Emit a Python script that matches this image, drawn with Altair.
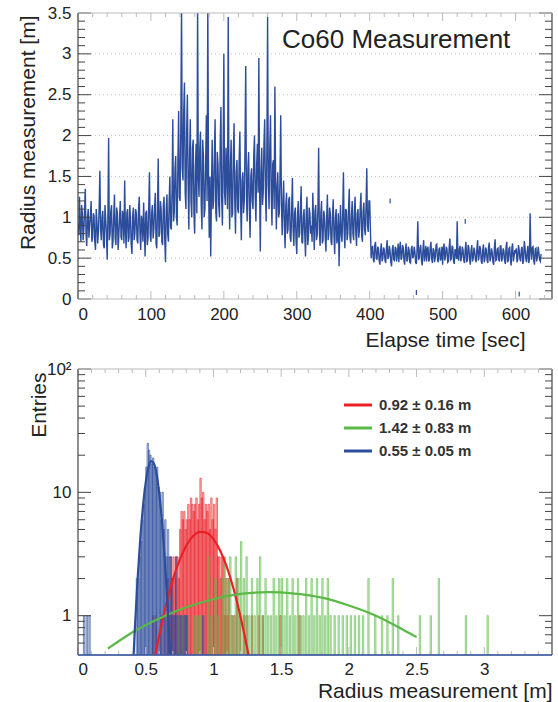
import altair as alt
import pandas as pd

FONT = "Liberation Sans"
BLUE = "#2c4c9c"
RED = "#ea2027"
GREEN = "#5ab946"
TXT = "#222222"
AXC = "#444444"
AXL = "#bbbbbb"

# ---------------- top panel data: radius vs elapse time (1 s samples) ----------------
RADIUS = [
    0.92, 0.78, 1.25, 0.88, 0.70, 1.15, 1.05, 0.72, 0.85, 1.08, 1.35, 0.80, 0.65, 0.98, 1.10, 0.75, 0.90, 1.02, 1.20, 0.70,
    0.75, 1.05, 1.02, 0.70, 0.60, 1.10, 0.95, 0.68, 0.82, 1.12, 1.57, 0.85, 0.72, 1.00, 1.08, 0.66, 0.62, 1.15, 0.98, 0.80,
    0.48, 1.00, 1.97, 0.72, 0.80, 1.08, 1.15, 0.62, 0.70, 1.02, 1.28, 0.74, 0.66, 1.12, 1.05, 0.60, 0.78, 1.00, 1.20, 0.76,
    0.72, 1.08, 1.02, 0.68, 1.45, 0.85, 0.62, 1.05, 1.10, 0.70, 0.75, 1.15, 0.98, 0.66, 0.55, 1.02, 1.12, 0.72, 0.80, 1.10,
    1.05, 0.72, 0.68, 1.10, 1.25, 0.80, 0.60, 1.02, 0.95, 0.70, 1.18, 0.85, 0.52, 1.05, 1.08, 0.66, 0.74, 1.12, 1.55, 0.78,
    0.70, 1.05, 1.15, 0.74, 0.85, 1.12, 1.30, 0.68, 0.62, 1.08, 1.72, 0.76, 0.80, 1.20, 1.10, 0.70, 0.66, 1.15, 1.25, 0.72,
    0.45, 1.10, 1.28, 0.80, 0.70, 1.20, 1.50, 0.88, 0.85, 1.35, 2.20, 0.95, 1.05, 1.60, 1.75, 1.00, 0.90, 1.70, 2.30, 1.25,
    1.20, 2.10, 3.60, 1.60, 1.45, 2.30, 2.65, 1.30, 1.10, 2.05, 2.50, 1.40, 0.85, 1.75, 2.20, 1.20, 1.00, 1.85, 1.95, 1.05,
    0.80, 1.60, 1.90, 1.05, 3.60, 1.50, 1.25, 1.85, 2.05, 1.15, 0.85, 1.95, 1.75, 1.00, 1.10, 1.65, 2.25, 1.20, 3.60, 1.45,
    0.75, 1.50, 0.52, 1.30, 1.95, 1.10, 1.20, 1.75, 2.20, 1.05, 0.95, 1.80, 1.65, 1.15, 1.00, 1.90, 2.35, 1.25, 0.90, 1.70,
    3.00, 1.30, 1.15, 1.85, 1.55, 1.10, 3.45, 1.40, 0.85, 1.65, 1.95, 1.00, 1.05, 1.75, 2.15, 1.20, 0.80, 1.55, 1.70, 1.10,
    1.05, 1.70, 2.05, 1.15, 0.72, 1.45, 1.55, 1.05, 1.20, 1.85, 2.85, 1.25, 0.95, 1.60, 1.80, 1.10, 0.75, 1.50, 1.60, 1.20,
    1.10, 1.75, 2.00, 1.25, 0.95, 1.65, 1.90, 1.30, 2.95, 1.40, 0.58, 1.55, 1.85, 1.15, 1.30, 1.90, 2.20, 1.35, 0.95, 1.80,
    3.45, 1.40, 1.10, 1.85, 2.25, 1.30, 0.90, 1.65, 1.70, 1.10, 2.60, 1.45, 0.85, 1.35, 1.55, 1.00, 1.05, 1.50, 2.25, 1.15,
    0.78, 1.20, 1.45, 0.90, 0.62, 1.15, 1.30, 0.80, 0.85, 1.22, 1.25, 0.75, 0.70, 1.10, 1.48, 0.85, 0.65, 1.05, 1.12, 0.72,
    0.55, 1.02, 1.20, 0.75, 0.80, 1.10, 1.38, 0.70, 0.68, 1.00, 1.10, 0.78, 0.52, 1.05, 1.25, 0.66, 0.75, 1.12, 1.05, 0.80,
    0.90, 0.70, 1.30, 0.95, 0.60, 1.08, 1.15, 0.72, 0.78, 1.10, 1.85, 0.82, 0.65, 1.05, 1.20, 0.68, 0.72, 1.08, 1.02, 0.76,
    0.58, 1.00, 1.28, 0.72, 0.80, 1.12, 1.05, 0.70, 0.66, 1.02, 1.22, 0.78, 0.55, 1.00, 1.10, 0.68, 0.75, 1.05, 0.40, 0.85,
    1.15, 0.78, 0.70, 1.05, 1.55, 0.82, 0.62, 1.10, 1.08, 0.72, 0.80, 1.12, 1.35, 0.75, 0.68, 1.02, 1.20, 0.80, 0.72, 1.08,
    1.25, 0.80, 0.65, 1.05, 1.10, 0.75, 0.85, 1.12, 1.30, 0.78, 0.70, 1.08, 1.18, 0.85, 0.78, 1.15, 1.60, 0.90, 0.82, 1.20,
    1.20, 0.85, 0.50, 0.62, 0.65, 0.48, 0.45, 0.66, 0.70, 0.50, 0.48, 0.64, 0.62, 0.47, 0.42, 0.60, 0.68, 0.46, 0.50, 0.63,
    0.60, 0.47, 0.44, 0.63, 0.72, 0.49, 0.52, 0.65, 0.58, 0.45, 0.40, 0.61, 0.66, 0.48, 0.47, 0.64, 0.62, 0.46, 0.55, 0.68,
    0.45, 0.62, 0.70, 0.48, 0.50, 0.66, 0.63, 0.47, 0.42, 0.60, 0.68, 0.46, 0.48, 0.64, 0.60, 0.45, 0.44, 0.61, 0.65, 0.50,
    0.52, 0.64, 0.58, 0.45, 0.43, 0.62, 0.95, 0.48, 0.50, 0.63, 0.66, 0.47, 0.41, 0.60, 0.72, 0.46, 0.55, 0.65, 0.46, 0.61,
    0.64, 0.46, 0.48, 0.63, 0.70, 0.49, 0.44, 0.62, 0.60, 0.45, 0.52, 0.66, 0.67, 0.48, 0.45, 0.61, 0.62, 0.47, 0.50, 0.64,
    0.42, 0.62, 0.68, 0.47, 0.53, 0.64, 0.61, 0.45, 0.46, 0.63, 0.74, 0.48, 0.49, 0.65, 0.63, 0.46, 0.43, 0.61, 0.58, 0.49,
    0.95, 0.50, 0.47, 0.62, 0.65, 0.46, 0.51, 0.64, 0.60, 0.47, 0.44, 0.61, 0.70, 0.45, 0.48, 0.66, 0.63, 0.48, 0.42, 0.60,
    0.66, 0.46, 0.50, 0.63, 0.58, 0.48, 0.45, 0.62, 0.72, 0.47, 0.52, 0.65, 0.61, 0.46, 0.43, 0.60, 0.67, 0.45, 0.49, 0.63,
    0.60, 0.47, 0.44, 0.64, 0.69, 0.46, 0.51, 0.62, 0.57, 0.45, 0.42, 0.63, 0.73, 0.47, 0.48, 0.61, 0.62, 0.48, 0.46, 0.65,
    0.65, 0.46, 0.50, 0.62, 0.59, 0.47, 0.43, 0.64, 0.70, 0.45, 0.47, 0.62, 0.63, 0.48, 0.41, 0.63, 0.68, 0.46, 0.52, 0.60,
    0.56, 0.62, 0.45, 0.48, 0.66, 0.60, 0.49, 0.46, 0.61, 0.64, 0.43, 0.47, 0.71, 0.63, 0.50, 0.45, 0.58, 0.65, 0.44, 0.48,
    1.05, 0.60, 0.48, 0.63, 0.64, 0.47, 0.42, 0.61, 0.62, 0.46, 0.51, 0.64, 0.57, 0.48, 0.46, 0.55,
]
TIME = list(range(len(RADIUS)))

OUT_T = [428, 464, 531, 605]
OUT_R = [1.20, 0.08, 0.95, 0.06]

TOP_TITLE = "Co60 Measurement"

# ---------------- bottom panel data: histograms (bin width 0.01 m) ----------------
RED_X = [0.55, 0.57, 0.61, 0.64, 0.66, 0.67, 0.68, 0.69, 0.70, 0.71, 0.72, 0.73, 0.74,
         0.75, 0.76, 0.77, 0.78, 0.79, 0.80, 0.81, 0.82, 0.83, 0.84, 0.85, 0.86, 0.87,
         0.88, 0.89, 0.90, 0.91, 0.92, 0.93, 0.94, 0.95, 0.96, 0.97, 0.98, 0.99, 1.00,
         1.01, 1.02, 1.03, 1.04, 1.05, 1.06, 1.07, 1.08, 1.09, 1.10, 1.11, 1.13, 1.15,
         1.17, 1.19, 1.22, 1.24, 1.28, 1.33, 1.36, 1.49, 1.63]
RED_N = [1, 1, 1, 1, 2, 1, 3, 2, 3, 2, 3, 3, 2,
         5, 7, 6, 7, 5, 6, 8, 6, 9, 8, 7, 8, 9,
         6, 8, 13, 9, 10, 6, 8, 7, 8, 5, 9, 6, 8,
         5, 9, 3, 3, 2, 3, 3, 1, 2, 1, 2, 1, 1,
         2, 1, 1, 1, 1, 1, 1, 1, 1]

GREEN_X = [0.74, 0.77, 0.80, 0.86, 0.88, 0.90, 0.96, 0.98, 1.01, 1.03, 1.06, 1.08, 1.10,
           1.12, 1.14, 1.16, 1.18, 1.20, 1.22, 1.24, 1.26, 1.28, 1.30, 1.32, 1.34, 1.36,
           1.38, 1.40, 1.42, 1.44, 1.46, 1.48, 1.50, 1.52, 1.54, 1.56, 1.58, 1.60, 1.62,
           1.64, 1.66, 1.68, 1.70, 1.72, 1.74, 1.76, 1.78, 1.80, 1.82, 1.84, 1.86, 1.89,
           1.92, 1.95, 1.98, 2.01, 2.04, 2.07, 2.10, 2.14, 2.19, 2.24, 2.28, 2.32, 2.36,
           2.52, 2.60, 2.66, 2.86, 3.02]
GREEN_N = [1, 1, 1, 1, 1, 1, 3, 1, 2, 1, 2, 3, 2,
           3, 1, 3, 2, 4, 2, 3, 1, 2, 1, 2, 3, 1,
           2, 1, 1, 2, 1, 2, 2, 1, 2, 1, 2, 1, 2,
           1, 1, 2, 1, 2, 1, 2, 1, 2, 1, 2, 1, 1,
           1, 1, 1, 1, 1, 1, 1, 2, 1, 1, 1, 2, 1,
           1, 1, 2, 1, 1]

BLUE_X = [0.04, 0.06, 0.08, 0.43, 0.44, 0.45, 0.46, 0.47, 0.48, 0.49, 0.50, 0.51, 0.52,
          0.53, 0.54, 0.55, 0.56, 0.57, 0.58, 0.59, 0.60, 0.61, 0.62, 0.63, 0.64, 0.65,
          0.66, 0.67, 0.68, 0.69, 0.70, 0.71, 0.72, 0.73, 0.75, 0.76, 0.78, 0.79, 0.80, 0.92]
BLUE_N = [1, 1, 1, 2, 2, 3, 4, 6, 8, 11, 16, 25, 22,
          20, 17, 19, 16, 15, 16, 11, 10, 6, 10, 5, 6, 3,
          5, 3, 3, 2, 1, 1, 3, 1, 1, 1, 1, 1, 1, 1]

# fitted gaussian curves
FIT_RED_X = [0.56, 0.60, 0.65, 0.70, 0.75, 0.80, 0.85, 0.90, 0.95, 1.00, 1.05, 1.10, 1.15, 1.20, 1.25, 1.28]
FIT_RED_Y = [0.41, 0.69, 1.22, 1.95, 2.82, 3.71, 4.42, 4.78, 4.69, 4.17, 3.36, 2.46, 1.63, 0.98, 0.54, 0.36]
FIT_GREEN_X = [0.22, 0.4, 0.6, 0.8, 1.0, 1.2, 1.4, 1.6, 1.8, 2.0, 2.2, 2.4, 2.5]
FIT_GREEN_Y = [0.54, 0.73, 0.95, 1.17, 1.36, 1.50, 1.55, 1.51, 1.40, 1.21, 1.00, 0.77, 0.67]
FIT_BLUE_X = [0.40, 0.42, 0.44, 0.46, 0.48, 0.50, 0.52, 0.54, 0.56, 0.58, 0.60, 0.62, 0.64, 0.66, 0.68]
FIT_BLUE_Y = [0.27, 0.79, 1.98, 4.25, 7.73, 12.0, 15.9, 17.9, 17.2, 14.1, 9.8, 5.84, 2.96, 1.28, 0.47]

LEG_LABELS = ["0.92 \u00b1 0.16 m", "1.42 \u00b1 0.83 m", "0.55 \u00b1 0.05 m"]
LEG_COLORS = [RED, GREEN, BLUE]

# ---------------- layout constants ----------------
W, H = 474, 286
ONE = pd.DataFrame({"k": [0]})


def frame_layers(data_one):
    left = alt.Chart(data_one).mark_rule(color=AXC, strokeWidth=1.2).encode(
        x=alt.value(0), y=alt.value(0), y2=alt.value(H))
    right = alt.Chart(data_one).mark_rule(color=AXC, strokeWidth=1.2).encode(
        x=alt.value(W), y=alt.value(0), y2=alt.value(H))
    top = alt.Chart(data_one).mark_rule(color=AXL, strokeWidth=1).encode(
        x=alt.value(0), x2=alt.value(W), y=alt.value(0))
    bottom = alt.Chart(data_one).mark_rule(color=AXL, strokeWidth=1).encode(
        x=alt.value(0), x2=alt.value(W), y=alt.value(H))
    return [left, right, top, bottom]


# ================= TOP PANEL =================
sx_t = alt.Scale(domain=[0, 650], nice=False, zero=False)
sy_t = alt.Scale(domain=[0, 3.5], nice=False)
ax_tx = alt.Axis(values=[0, 100, 200, 300, 400, 500, 600], format="d", ticks=False, domain=False,
                 grid=False, labelPadding=7, title="Elapse time [sec]", titleX=447, titleY=47,
                 titleAlign="right", titleBaseline="alphabetic", titleAnchor="start")
ax_ty = alt.Axis(values=[0, 0.5, 1, 1.5, 2, 2.5, 3, 3.5], format="~g", ticks=False, domain=False,
                 grid=False, labelPadding=7, title="Radius measurement [m]", titleAngle=270,
                 titleX=-44, titleY=2, titleAlign="right", titleBaseline="alphabetic", titleAnchor="start")
XT = alt.X("t:Q", scale=sx_t, axis=ax_tx)
YT = alt.Y("r:Q", scale=sy_t, axis=ax_ty)

ts = pd.DataFrame({"t": TIME, "r": RADIUS})
outl = pd.DataFrame({"t": OUT_T, "r": OUT_R})

ty_major = [v / 2 for v in range(0, 8)]
ty_minor = [v / 10 for v in range(0, 36) if v % 5 != 0]
tx_major = [0, 100, 200, 300, 400, 500, 600]
tx_minor = [v for v in range(0, 650, 20) if v % 100 != 0]

grid_t = alt.Chart(pd.DataFrame({"r": [0.5, 1, 1.5, 2, 2.5, 3]})).mark_rule(
    color="#c4c4c4", strokeDash=[1, 3], strokeWidth=1).encode(y=YT)
line_t = alt.Chart(ts).mark_line(color=BLUE, strokeWidth=1.4, clip=True).encode(x=XT, y=YT)
out_t = alt.Chart(outl).transform_calculate(lo="datum.r - 0.03", hi="datum.r + 0.03").mark_rule(
    color=BLUE, strokeWidth=1.2).encode(x=XT, y=alt.Y("lo:Q", scale=sy_t, axis=ax_ty), y2="hi:Q")

dmaj = pd.DataFrame({"r": ty_major})
dmin = pd.DataFrame({"r": ty_minor})
yt_ticks = [
    alt.Chart(dmaj).mark_rule(color=AXC).encode(y=YT, x=alt.value(0), x2=alt.value(13)),
    alt.Chart(dmin).mark_rule(color=AXC).encode(y=YT, x=alt.value(0), x2=alt.value(7)),
    alt.Chart(dmaj).mark_rule(color=AXC).encode(y=YT, x=alt.value(W - 13), x2=alt.value(W)),
    alt.Chart(dmin).mark_rule(color=AXC).encode(y=YT, x=alt.value(W - 7), x2=alt.value(W)),
]
dxmaj = pd.DataFrame({"t": tx_major})
dxmin = pd.DataFrame({"t": tx_minor})
xt_ticks = [
    alt.Chart(dxmaj).mark_rule(color=AXL).encode(x=XT, y=alt.value(H - 8), y2=alt.value(H)),
    alt.Chart(dxmin).mark_rule(color=AXL).encode(x=XT, y=alt.value(H - 4), y2=alt.value(H)),
    alt.Chart(dxmaj).mark_rule(color=AXL).encode(x=XT, y=alt.value(0), y2=alt.value(8)),
    alt.Chart(dxmin).mark_rule(color=AXL).encode(x=XT, y=alt.value(0), y2=alt.value(4)),
]
title_t = alt.Chart(pd.DataFrame({"label": [TOP_TITLE]})).mark_text(
    align="left", baseline="alphabetic", fontSize=26, font=FONT, color=TXT).encode(
    x=alt.value(204), y=alt.value(35), text="label:N")

top = alt.layer(grid_t, line_t, out_t, *yt_ticks, *xt_ticks, *frame_layers(ONE), title_t).properties(
    width=W, height=H)

# ================= BOTTOM PANEL =================
sx_b = alt.Scale(domain=[0, 3.5], nice=False, zero=False)
sy_b = alt.Scale(type="log", domain=[0.48, 100], nice=False)
ax_bx = alt.Axis(values=[0, 0.5, 1, 1.5, 2, 2.5, 3], format="~g", ticks=False, domain=False,
                 grid=False, labelPadding=6, title="Radius measurement [m]", titleX=474, titleY=42,
                 titleAlign="right", titleBaseline="alphabetic", titleAnchor="start")
ax_by = alt.Axis(values=[1, 10, 100], format="d", ticks=False, domain=False, grid=False,
                 labelPadding=7, labelExpr="datum.value >= 100 ? '10\u00b2' : datum.label",
                 title="Entries", titleAngle=270, titleX=-33, titleY=3, titleAlign="right",
                 titleBaseline="alphabetic", titleAnchor="start")
XB = alt.X("x:Q", scale=sx_b, axis=ax_bx)
YB = alt.Y("n:Q", scale=sy_b, axis=ax_by)


def hist(xs, ns, color):
    df = pd.DataFrame({"x": xs, "n": ns})
    return alt.Chart(df).transform_calculate(x2="datum.x + 0.01").mark_bar(
        fill=color, fillOpacity=0.25, stroke=color, strokeWidth=0.7, strokeOpacity=0.85,
        clip=True).encode(x=XB, x2="x2:Q", y=YB, y2=alt.value(H))


def fit(xs, ys, color):
    df = pd.DataFrame({"x": xs, "n": ys})
    return alt.Chart(df).mark_line(color=color, strokeWidth=2.2, interpolate="monotone",
                                   clip=True).encode(x=XB, y=YB)


by_major = [1, 10, 100]
by_minor = [0.6, 0.7, 0.8, 0.9] + [float(v) for v in range(2, 10)] + [float(v * 10) for v in range(2, 10)]
bx_major = [0, 0.5, 1, 1.5, 2, 2.5, 3]
bx_minor = [v / 10 for v in range(0, 35) if v % 5 != 0]
dbmaj = pd.DataFrame({"n": by_major})
dbmin = pd.DataFrame({"n": by_minor})
dbxmaj = pd.DataFrame({"x": bx_major})
dbxmin = pd.DataFrame({"x": bx_minor})
yb_ticks = [
    alt.Chart(dbmaj).mark_rule(color=AXC).encode(y=YB, x=alt.value(0), x2=alt.value(13)),
    alt.Chart(dbmin).mark_rule(color=AXC).encode(y=YB, x=alt.value(0), x2=alt.value(7)),
    alt.Chart(dbmaj).mark_rule(color=AXC).encode(y=YB, x=alt.value(W - 13), x2=alt.value(W)),
    alt.Chart(dbmin).mark_rule(color=AXC).encode(y=YB, x=alt.value(W - 7), x2=alt.value(W)),
]
xb_ticks = [
    alt.Chart(dbxmaj).mark_rule(color=AXL).encode(x=XB, y=alt.value(H - 8), y2=alt.value(H)),
    alt.Chart(dbxmin).mark_rule(color=AXL).encode(x=XB, y=alt.value(H - 4), y2=alt.value(H)),
    alt.Chart(dbxmaj).mark_rule(color=AXL).encode(x=XB, y=alt.value(0), y2=alt.value(8)),
    alt.Chart(dbxmin).mark_rule(color=AXL).encode(x=XB, y=alt.value(0), y2=alt.value(4)),
]
baseline_b = alt.Chart(ONE).mark_rule(color=BLUE, strokeWidth=1.5).encode(
    x=alt.value(0), x2=alt.value(W), y=alt.value(H))

LEG_Y = [36, 59, 82]
legend = []
for lab, col, yy in zip(LEG_LABELS, LEG_COLORS, LEG_Y):
    d = pd.DataFrame({"label": [lab]})
    legend.append(alt.Chart(d).mark_rule(color=col, strokeWidth=3).encode(
        x=alt.value(266), x2=alt.value(294), y=alt.value(yy)))
    legend.append(alt.Chart(d).mark_text(align="left", baseline="middle", fontSize=15,
                                         fontWeight="bold", font=FONT, color="#333333").encode(
        x=alt.value(301), y=alt.value(yy), text="label:N"))

bottom = alt.layer(
    hist(RED_X, RED_N, RED), hist(GREEN_X, GREEN_N, GREEN), hist(BLUE_X, BLUE_N, BLUE),
    fit(FIT_RED_X, FIT_RED_Y, RED), fit(FIT_GREEN_X, FIT_GREEN_Y, GREEN), fit(FIT_BLUE_X, FIT_BLUE_Y, BLUE),
    *yb_ticks, *xb_ticks, *frame_layers(ONE), baseline_b, *legend,
).properties(width=W, height=H)

chart = alt.vconcat(top, bottom, spacing=70, bounds="flush").properties(
    padding={"left": 17, "top": 4, "right": 5, "bottom": 5}
).configure_view(stroke=None).configure_axis(
    labelFont=FONT, labelFontSize=17, labelColor=TXT, titleFont=FONT, titleFontSize=21,
    titleFontWeight="normal", titleColor=TXT
)

chart.save("out.html", embed_options={"renderer": "svg", "actions": False})
